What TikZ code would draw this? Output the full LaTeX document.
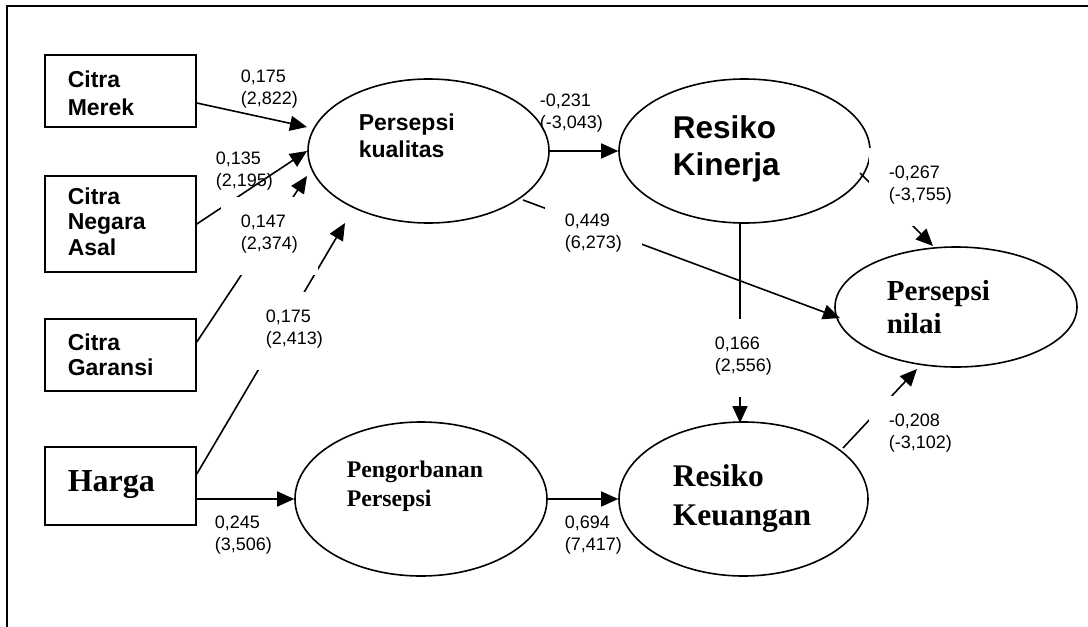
\documentclass[tikz,border=0pt]{standalone}
\usepackage{fontspec}
\setmainfont{Liberation Serif}
\setsansfont{Liberation Sans}
\usetikzlibrary{arrows.meta,calc,shapes.geometric}
\newcommand\mystack[2]{\vtop{\hbox{#1}\hbox{#2}}}
\newcommand\mythree[3]{\vtop{\hbox{#1}\hbox{#2}\hbox{#3}}}
\newcommand\mylbl[2]{\vtop{\hbox{#1}\hbox{#2}\vskip5pt}}
\begin{document}
\begin{tikzpicture}[x=1pt,y=-1pt,line width=1.6pt,
  box/.style={draw,rectangle,inner sep=0pt,minimum width=151pt},
  ell/.style={draw,ellipse,inner sep=0pt},
  txt/.style={anchor=base west,inner sep=0pt},
  arr/.style={-{Triangle[length=17pt,width=15pt]}},
  lbl/.style={anchor=base west,inner xsep=20pt,inner ysep=17pt,font={\sffamily\fontsize{18}{22}\selectfont}},
  lblw/.style={lbl,fill=white}]
\useasboundingbox (0,0) rectangle (1088,627);
% frame
\draw[line width=1.8pt] (7,627) -- (7,6) -- (1088,6);
% boxes
\node[box,minimum height=72pt] (cm) at (120.5,91) {};
\node[box,minimum height=96pt] (cn) at (120.5,224) {};
\node[box,minimum height=72pt] (cg) at (120.5,355) {};
\node[box,minimum height=78pt] (hg) at (120.5,486) {};
% ellipses
\node[ell,minimum width=241pt,minimum height=144pt] (pk) at (428.5,151) {};
\node[ell,minimum width=251pt,minimum height=144pt] (rk) at (744.5,151) {};
\node[ell,minimum width=242pt,minimum height=120pt] (pn) at (956,307) {};
\node[ell,minimum width=252pt,minimum height=154pt] (pe) at (421,499) {};
\node[ell,minimum width=249pt,minimum height=154pt] (rku) at (743.5,499) {};
% texts
\node[txt,font={\bfseries\sffamily\fontsize{23}{28.4}\selectfont}] (tcm) at (67,87.3) {\mystack{Citra}{Merek}};
\node[txt,font={\bfseries\sffamily\fontsize{23}{25.5}\selectfont}] (tcn) at (67,204) {\mythree{Citra}{Negara}{Asal}};
\node[txt,font={\bfseries\sffamily\fontsize{23}{25}\selectfont}] (tcg) at (67,350) {\mystack{Citra}{Garansi}};
\node[txt,font={\bfseries\rmfamily\fontsize{32}{36}\selectfont}] (thg) at (67,491) {Harga};
\node[txt,font={\bfseries\sffamily\fontsize{23}{27}\selectfont}] (tpk) at (358,130) {\mystack{Persepsi}{kualitas}};
\node[txt,font={\bfseries\sffamily\fontsize{31.5}{37}\selectfont}] (trk) at (672,138) {\mystack{Resiko}{Kinerja}};
\node[txt,font={\bfseries\rmfamily\fontsize{29}{33}\selectfont}] (tpn) at (886,300) {\mystack{Persepsi}{nilai}};
\node[txt,font={\bfseries\rmfamily\fontsize{23.8}{29}\selectfont}] (tpe) at (346,477) {\mystack{Pengorbanan}{Persepsi}};
\node[txt,font={\bfseries\rmfamily\fontsize{31.5}{39}\selectfont}] (trku) at (672,486) {\mystack{Resiko}{Keuangan}};
% arrows
\draw[arr] ($(cm.east)+(0,12)$) -- ($(pk.center)+(-121.5,-24)$);
\draw[arr] (cn.east) -- ($(pk.center)+(-121.5,0)$);
\draw[arr] ($(cg.east)+(0,-13)$) -- ($(pk.center)+(-121.5,25)$);
\draw[arr] ($(hg.east)+(0,-12)$) -- ($(pk.center)+(-83.5,72)$);
\draw[arr] ($(hg.east)+(0,13)$) -- (pe.west);
\draw[arr] (pk.east) -- (rk.west);
\draw[arr] ($(pk.center)+(94.5,49)$) -- ($(pn.center)+(-116,11)$);
\draw[arr] ($(rk.center)+(115.5,22)$) -- ($(pn.center)+(-23,-61)$);
\draw[arr] ($(rk.center)+(-4.5,72)$) -- ($(rku.center)+(-3.5,-76)$);
\draw[arr] (pe.east) -- (rku.west);
\draw[arr] ($(rku.center)+(99.5,-51)$) -- ($(pn.center)+(-39,62)$);
% labels
\node[lbl] (l1) at (220,82) {\mylbl{0,175}{(2,822)}};
\node[lbl] (l2) at (195,164) {\mylbl{0,135}{(2,195)}};
\node[lblw] (l3) at (220,227) {\mylbl{0,147}{(2,374)}};
\node[lblw] (l4) at (245,322) {\mylbl{0,175}{(2,413)}};
\node[lbl] (l5) at (519,106) {\mylbl{-0,231}{(-3,043)}};
\node[lblw] (l6) at (544,226) {\mylbl{0,449}{(6,273)}};
\node[lblw] (l7) at (868,178) {\mylbl{-0,267}{(-3,755)}};
\node[lblw] (l8) at (694,349) {\mylbl{0,166}{(2,556)}};
\node[lblw] (l9) at (868,426) {\mylbl{-0,208}{(-3,102)}};
\node[lbl] (l10) at (544,528) {\mylbl{0,694}{(7,417)}};
\node[lbl] (l11) at (194,528) {\mylbl{0,245}{(3,506)}};
\end{tikzpicture}
\end{document}
